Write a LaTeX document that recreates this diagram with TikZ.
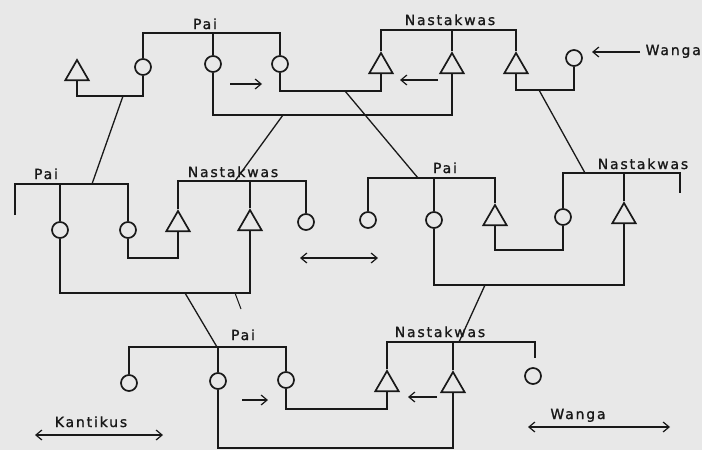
\documentclass[tikz,border=0pt]{standalone}
\usepackage{fontspec}
\setmainfont{DejaVu Sans}[LetterSpace=13,FakeBold=1.2]
\usetikzlibrary{shapes.geometric,arrows.meta}
\definecolor{paper}{RGB}{232,232,232}
\definecolor{ink}{RGB}{25,25,25}
\begin{document}
\begin{tikzpicture}[x=1pt,y=-1pt,
  line/.style={draw=ink,line width=1.7pt},
  desc/.style={draw=ink,line width=1.3pt},
  tipb/.tip={Straight Barb[length=6pt,width=10pt]},
  arr/.style={draw=ink,line width=1.2pt,-tipb},
  darr/.style={draw=ink,line width=1.2pt,tipb-tipb},
  circ/.style={circle,draw=ink,line width=1.7pt,minimum size=16pt,inner sep=0pt},
  tri/.style={regular polygon,regular polygon sides=3,draw=ink,line width=1.7pt,minimum size=27pt,inner sep=0pt},
  lab/.style={text=ink,font=\fontsize{14}{16}\selectfont,inner sep=0pt,anchor=base}]
\fill[paper] (0,0) rectangle (702,450);
\useasboundingbox (0,0) rectangle (702,450);

% ---------- symbols ----------
\node[tri] (t1) at (77,73.5) {};
\node[tri] (t2) at (381,66.5) {};
\node[tri] (t3) at (452,66.5) {};
\node[tri] (t4) at (516,66.5) {};
\node[tri] (t5) at (178,224.5) {};
\node[tri] (t6) at (250,223.5) {};
\node[tri] (t7) at (495,218.5) {};
\node[tri] (t8) at (624,216.5) {};
\node[tri] (t9) at (387,384.5) {};
\node[tri] (t10) at (453,385.5) {};

\node[circ] (c1) at (143,67) {};
\node[circ] (c2) at (213,64) {};
\node[circ] (c3) at (280,64) {};
\node[circ] (c4) at (574,58) {};
\node[circ] (c5) at (60,230) {};
\node[circ] (c6) at (128,230) {};
\node[circ] (c7) at (306,222) {};
\node[circ] (c8) at (368,220) {};
\node[circ] (c9) at (434,220) {};
\node[circ] (c10) at (563,217) {};
\node[circ] (c11) at (129,383) {};
\node[circ] (c12) at (218,381) {};
\node[circ] (c13) at (286,380) {};
\node[circ] (c14) at (533,376) {};

% ---------- labels ----------
\node[lab] (l1) at (205,29) {Pai};
\node[lab] (l2) at (450,25) {Nastakwas};
\node[lab,anchor=base east] (l3) at (701,55) {Wanga};
\node[lab] (l4) at (46,179) {Pai};
\node[lab] (l5) at (233,177) {Nastakwas};
\node[lab] (l6) at (445,173) {Pai};
\node[lab] (l7) at (643,169) {Nastakwas};
\node[lab] (l8) at (243,340) {Pai};
\node[lab] (l9) at (440,337) {Nastakwas};
\node[lab] (l10) at (578,419) {Wanga};
\node[lab] (l11) at (91,427) {Kantikus};

% ---------- helper coordinates ----------
\coordinate (barA) at (0,33);
\coordinate (barB) at (0,30);
\coordinate (m1) at (0,96);
\coordinate (m2) at (0,115);
\coordinate (m3) at (0,91);
\coordinate (m4) at (0,90);
\coordinate (barC) at (0,184);
\coordinate (barD) at (0,181);
\coordinate (barE) at (0,178);
\coordinate (barF) at (0,173);
\coordinate (m5) at (0,258);
\coordinate (m6) at (0,293);
\coordinate (m7) at (0,250);
\coordinate (m8) at (0,285);
\coordinate (barG) at (0,347);
\coordinate (barH) at (0,342);
\coordinate (m9) at (0,409);
\coordinate (m10) at (0,448);
\coordinate (stubC) at (15,215);
\coordinate (stubF) at (680,193);
\coordinate (stubH) at (535,358);

% ---------- sibling bars ----------
\draw[line] (c1.north) -- (c1 |- barA) -- (c3 |- barA) -- (c3.north);
\draw[line] (c2.north) -- (c2 |- barA);
\draw[line] (t2.corner 1) -- (t2 |- barB) -- (t4 |- barB) -- (t4.corner 1);
\draw[line] (t3.corner 1) -- (t3 |- barB);
\draw[line] (stubC) -- (stubC |- barC) -- (c6 |- barC) -- (c6.north);
\draw[line] (c5.north) -- (c5 |- barC);
\draw[line] (t5.corner 1) -- (t5 |- barD) -- (c7 |- barD) -- (c7.north);
\draw[line] (t6.corner 1) -- (t6 |- barD);
\draw[line] (c8.north) -- (c8 |- barE) -- (t7 |- barE) -- (t7.corner 1);
\draw[line] (c9.north) -- (c9 |- barE);
\draw[line] (c10.north) -- (c10 |- barF) -- (stubF |- barF) -- (stubF);
\draw[line] (t8.corner 1) -- (t8 |- barF);
\draw[line] (c11.north) -- (c11 |- barG) -- (c13 |- barG) -- (c13.north);
\draw[line] (c12.north) -- (c12 |- barG);
\draw[line] (t9.corner 1) -- (t9 |- barH) -- (stubH |- barH) -- (stubH);
\draw[line] (t10.corner 1) -- (t10 |- barH);

% ---------- marriages ----------
\draw[line] (t1.side 2) -- (t1 |- m1) -- (c1 |- m1) -- (c1.south);
\draw[line] (c2.south) -- (c2 |- m2) -- (t3 |- m2) -- (t3.side 2);
\draw[line] (c3.south) -- (c3 |- m3) -- (t2 |- m3) -- (t2.side 2);
\draw[line] (t4.side 2) -- (t4 |- m4) -- (c4 |- m4) -- (c4.south);
\draw[line] (c6.south) -- (c6 |- m5) -- (t5 |- m5) -- (t5.side 2);
\draw[line] (c5.south) -- (c5 |- m6) -- (t6 |- m6) -- (t6.side 2);
\draw[line] (t7.side 2) -- (t7 |- m7) -- (c10 |- m7) -- (c10.south);
\draw[line] (c9.south) -- (c9 |- m8) -- (t8 |- m8) -- (t8.side 2);
\draw[line] (c13.south) -- (c13 |- m9) -- (t9 |- m9) -- (t9.side 2);
\draw[line] (c12.south) -- (c12 |- m10) -- (t10 |- m10) -- (t10.side 2);

% ---------- descent lines ----------
\coordinate (d1a) at (123,96);  \coordinate (d1b) at (92,184);
\coordinate (d2a) at (283,115); \coordinate (d2b) at (235,181);
\coordinate (d3a) at (345,91);  \coordinate (d3b) at (418,178);
\coordinate (d4a) at (539,90);  \coordinate (d4b) at (585,173);
\coordinate (d5a) at (185,293); \coordinate (d5b) at (217,347);
\coordinate (d6a) at (485,285); \coordinate (d6b) at (459,342);
\coordinate (tka) at (235,293); \coordinate (tkb) at (241,309);
\draw[desc] (d1a) -- (d1b);
\draw[desc] (d2a) -- (d2b);
\draw[desc] (d3a) -- (d3b);
\draw[desc] (d4a) -- (d4b);
\draw[desc] (d5a) -- (d5b);
\draw[desc] (d6a) -- (d6b);
\draw[draw=ink,line width=1pt] (tka) -- (tkb);

% ---------- arrows ----------
\coordinate (a1s) at (230,84);  \coordinate (a1e) at (262,84);
\coordinate (a2s) at (438,80);  \coordinate (a2e) at (400,80);
\coordinate (a3s) at (640,52);  \coordinate (a3e) at (592,52);
\coordinate (a4s) at (300,258); \coordinate (a4e) at (378,258);
\coordinate (a5s) at (242,400); \coordinate (a5e) at (268,400);
\coordinate (a6s) at (437,397); \coordinate (a6e) at (408,397);
\coordinate (a7s) at (528,427); \coordinate (a7e) at (670,427);
\coordinate (a8s) at (35,435);  \coordinate (a8e) at (163,435);
\draw[arr] (a1s) -- (a1e);
\draw[arr] (a2s) -- (a2e);
\draw[arr] (a3s) -- (a3e);
\draw[darr] (a4s) -- (a4e);
\draw[arr] (a5s) -- (a5e);
\draw[arr] (a6s) -- (a6e);
\draw[darr] (a7s) -- (a7e);
\draw[darr] (a8s) -- (a8e);
\end{tikzpicture}
\end{document}
